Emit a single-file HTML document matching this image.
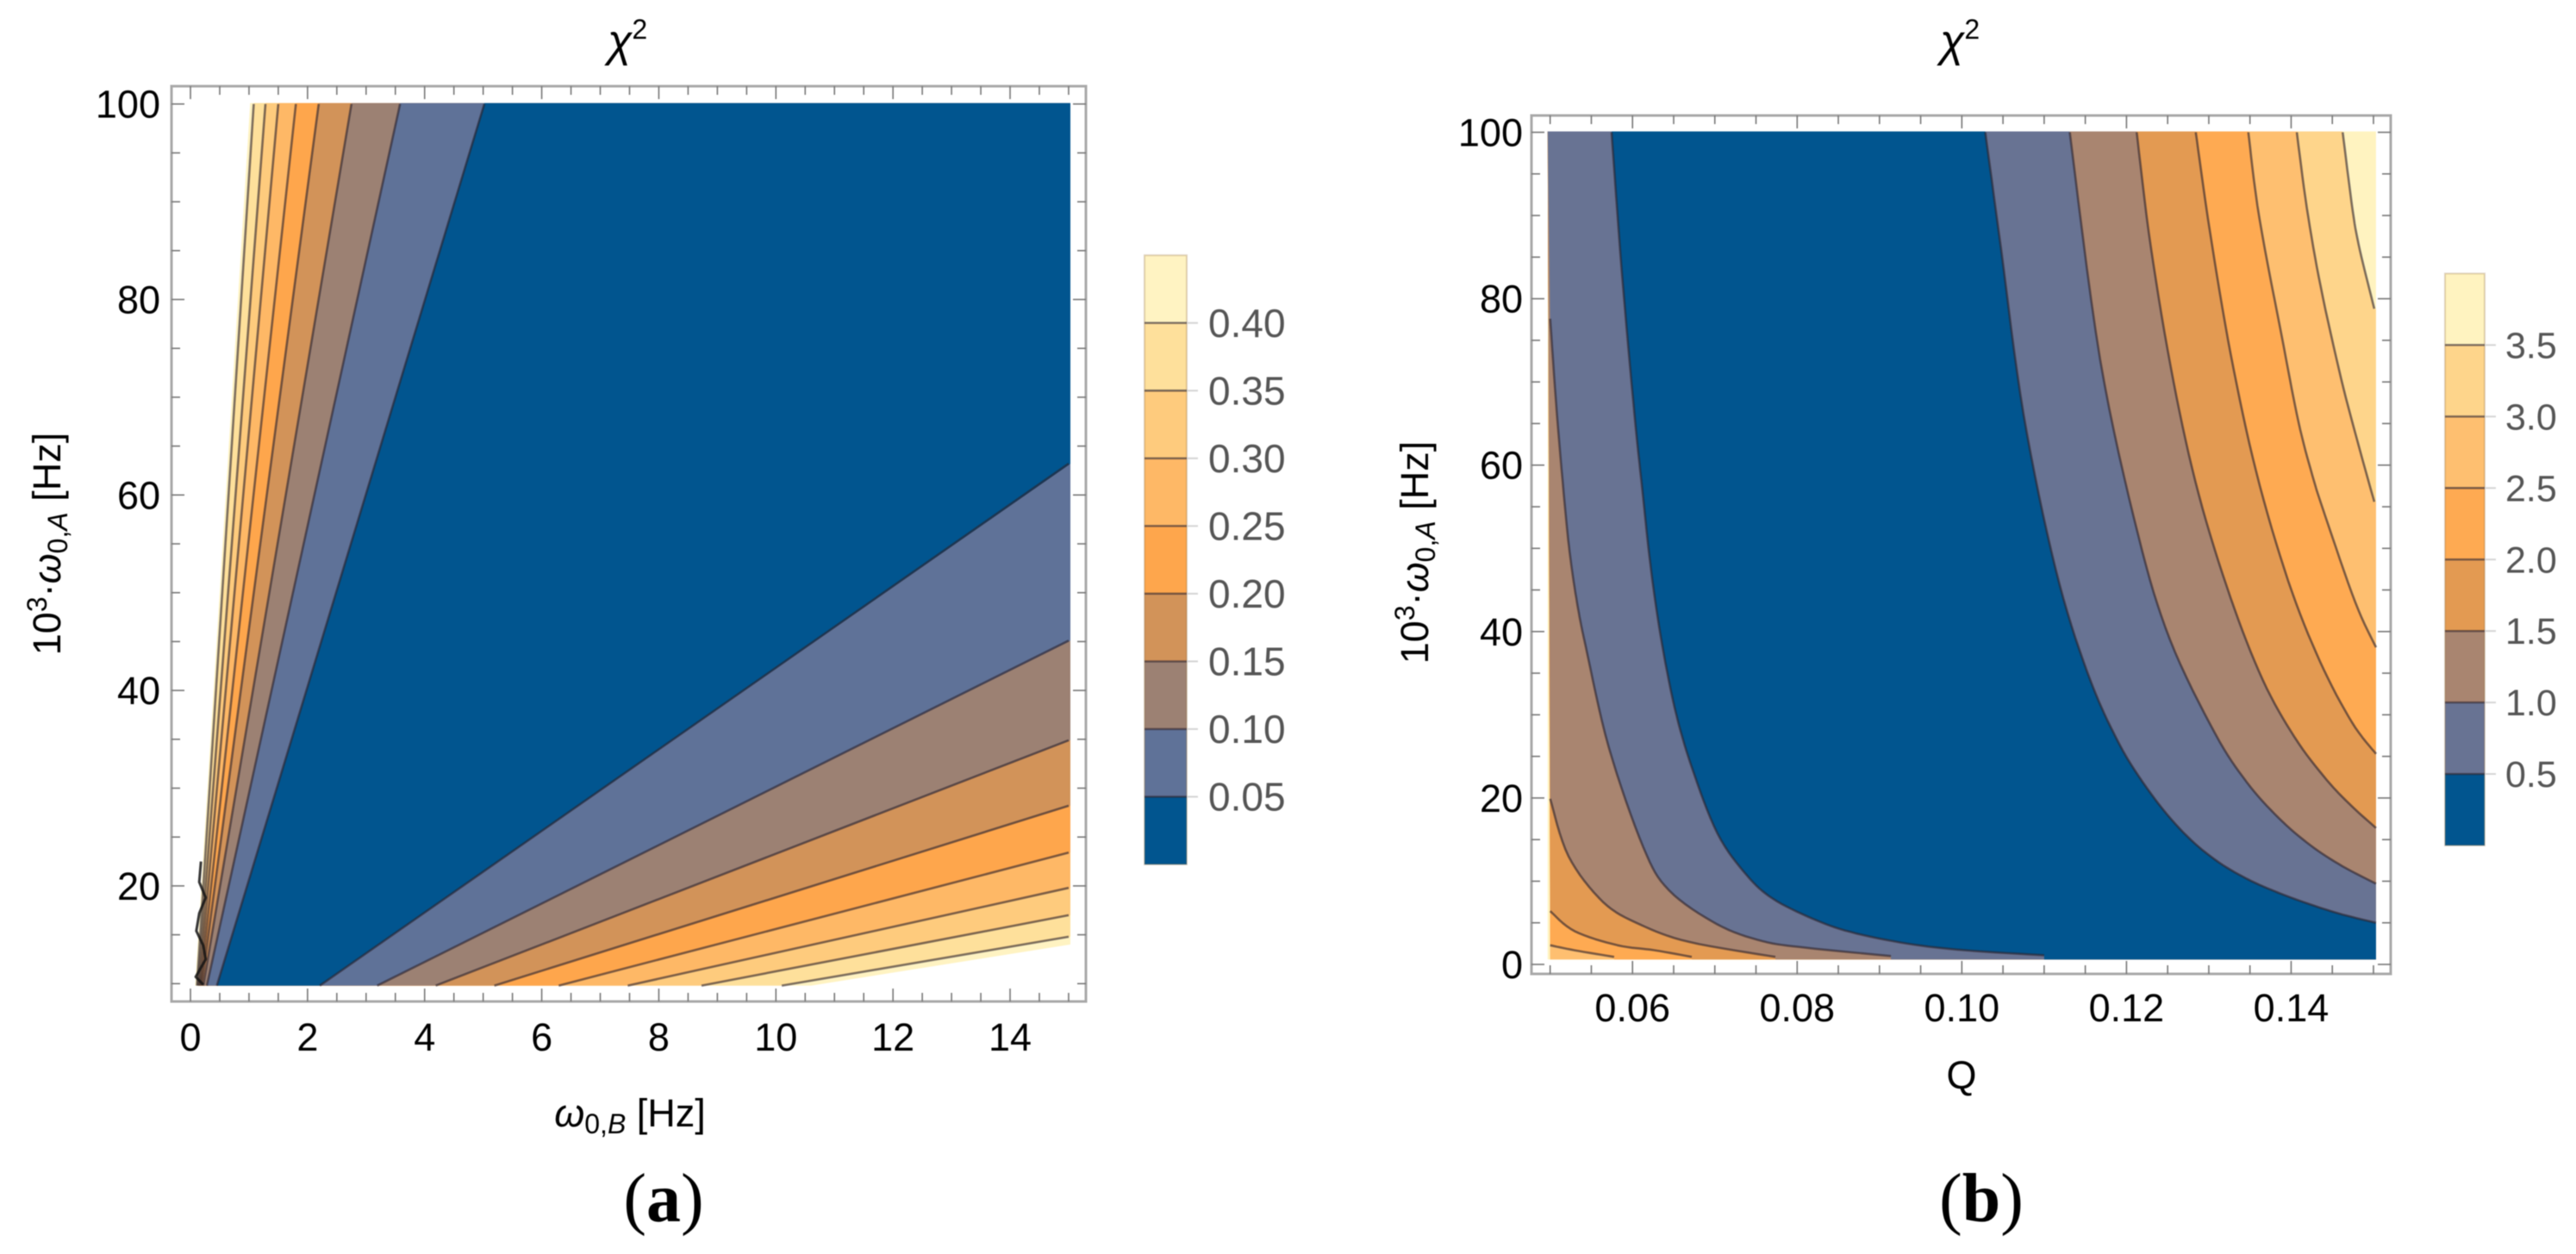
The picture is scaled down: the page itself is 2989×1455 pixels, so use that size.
<!DOCTYPE html>
<html lang="en">
<head>
<meta charset="utf-8">
<title>Chi-squared contour plots</title>
<style>
  html, body { margin: 0; padding: 0; background: #fff; }
  svg { display: block; filter: blur(0.6px); }
  text { font-family: "Liberation Sans", sans-serif; fill: #000; }
  .tick-label { font-size: 45px; }
  .axis-title { font-size: 45px; }
  .sub { font-size: 32px; }
  .bar-label { fill: #555; }
  .panel-label { font-family: "Liberation Serif", serif; font-size: 80px; }
  .frame { fill: none; stroke: #a8a8a8; stroke-width: 3; }
  .tick { stroke: #777; stroke-width: 1.6; }
  .contour { fill: none; stroke: rgba(45,35,45,.62); stroke-width: 2.6; stroke-linejoin: round; }
  .noisy { fill: none; stroke: rgba(20,20,20,.85); stroke-width: 3; stroke-linejoin: round; }
  .bar-edge { fill: none; stroke: rgba(140,100,50,.28); stroke-width: 2; }
  .bar-line { stroke: rgba(45,35,45,.62); stroke-width: 2.4; }
  .bar-tick { stroke: #d4d4d4; stroke-width: 2; }
  .a0 { fill: #01558f; } .a1 { fill: #5f7298; } .a2 { fill: #9c8173; }
  .a3 { fill: #d29359; } .a4 { fill: #fea64c; } .a5 { fill: #feb866; }
  .a6 { fill: #fecb7d; } .a7 { fill: #fee09b; } .a8 { fill: #fff3c2; }
  .b0 { fill: #01558f; } .b1 { fill: #687393; } .b2 { fill: #a98570; }
  .b3 { fill: #e39a52; } .b4 { fill: #feaa52; } .b5 { fill: #febf70; }
  .b6 { fill: #fed58b; } .b7 { fill: #fff3c0; }
</style>
</head>
<body>
<svg id="fig" xmlns="http://www.w3.org/2000/svg" width="2989" height="1455" viewBox="0 0 2989 1455">
  <g id="panelA"></g>
  <g id="panelB"></g>

  <text x="705" y="65" font-size="52" font-style="italic">χ<tspan dy="-20" font-size="32" font-style="normal">2</tspan></text>
  <text x="2251" y="65" font-size="52" font-style="italic">χ<tspan dy="-20" font-size="32" font-style="normal">2</tspan></text>

  <text class="axis-title" x="731" y="1307" text-anchor="middle"><tspan font-style="italic">ω</tspan><tspan class="sub" dy="8">0,</tspan><tspan class="sub" font-style="italic">B</tspan><tspan dy="-8"> [Hz]</tspan></text>
  <text class="axis-title" transform="translate(70 631) rotate(-90)" text-anchor="middle">10<tspan class="sub" dy="-16">3</tspan><tspan dy="16">·</tspan><tspan font-style="italic">ω</tspan><tspan class="sub" dy="8">0,</tspan><tspan class="sub" font-style="italic">A</tspan><tspan dy="-8"> [Hz]</tspan></text>

  <text class="axis-title" x="2276" y="1263" text-anchor="middle">Q</text>
  <text class="axis-title" transform="translate(1657 641) rotate(-90)" text-anchor="middle">10<tspan class="sub" dy="-16">3</tspan><tspan dy="16">·</tspan><tspan font-style="italic">ω</tspan><tspan class="sub" dy="8">0,</tspan><tspan class="sub" font-style="italic">A</tspan><tspan dy="-8"> [Hz]</tspan></text>

  <text class="panel-label" x="770" y="1417" text-anchor="middle">(<tspan font-weight="bold">a</tspan>)</text>
  <text class="panel-label" x="2299" y="1417" text-anchor="middle">(<tspan font-weight="bold">b</tspan>)</text>
</svg>

<script>
/* ---------- Panel (a) data: chi^2 vs omega_0,B [Hz] and 10^3 omega_0,A [Hz] ---------- */
const levelsA = [0.05, 0.10, 0.15, 0.20, 0.25, 0.30, 0.35, 0.40];
const barRangeA = [0, 0.45];
const xTickLabelsA = [0, 2, 4, 6, 8, 10, 12, 14];
const yTickLabelsA = [20, 40, 60, 80, 100];
const barTickLabelsA = ['0.05', '0.10', '0.15', '0.20', '0.25', '0.30', '0.35', '0.40'];
/* steep contour of each level: [omega_B, omega_A] */
const steepContoursA = [
  [[5.02, 100], [0.45, 9.8]],
  [[3.58, 100], [0.28, 9.8]],
  [[2.75, 100], [0.22, 9.8]],
  [[2.19, 100], [0.19, 9.8]],
  [[1.80, 100], [0.17, 9.8]],
  [[1.50, 100], [0.15, 9.8]],
  [[1.28, 100], [0.13, 9.8]],
  [[1.08, 100], [0.11, 9.8]]
];
/* shallow contour of each level: [omega_B, omega_A] */
const shallowContoursA = [
  [[2.21, 9.8], [15.0, 63.2]],
  [[3.19, 9.8], [15.0, 45.1]],
  [[4.19, 9.8], [15.0, 34.9]],
  [[5.19, 9.8], [15.0, 28.2]],
  [[6.29, 9.8], [15.0, 23.4]],
  [[7.47, 9.8], [15.0, 19.8]],
  [[8.73, 9.8], [15.0, 17.0]],
  [[10.1, 9.8], [15.0, 14.8]]
];
const domainOutlineA = [[1.02, 100.1], [0.08, 9.8], [10.6, 9.8], [15.03, 14.0], [15.03, 100.1]];
const noisyContourA = [[0.18, 22.5], [0.15, 20.4], [0.26, 18.8], [0.15, 17.2], [0.10, 15.4], [0.22, 13.9], [0.26, 12.5], [0.09, 10.7], [0.22, 9.9]];

/* ---------- Panel (b) data: chi^2 vs Q and 10^3 omega_0,A [Hz] ---------- */
const levelsB = [0.5, 1.0, 1.5, 2.0, 2.5, 3.0, 3.5];
const barRangeB = [0, 4.0];
const xTickLabelsB = ['0.06', '0.08', '0.10', '0.12', '0.14'];
const yTickLabelsB = [0, 20, 40, 60, 80, 100];
const barTickLabelsB = ['0.5', '1.0', '1.5', '2.0', '2.5', '3.0', '3.5'];
const leftContoursB = [
  [[0.05746, 100], [0.05869, 83.4], [0.06026, 65.9], [0.06131, 56], [0.06217, 48.1], [0.0634, 39.6], [0.06511, 30.9], [0.0672, 23.7], [0.07034, 15.7], [0.0739, 10.7], [0.07704, 7.9], [0.08186, 5.5], [0.08646, 3.9], [0.09337, 2.5], [0.1004, 1.7], [0.11, 1.1]],
  [[0.05, 77.6], [0.05084, 65.9], [0.05188, 54.1], [0.05249, 48.6], [0.05328, 43.4], [0.05432, 38.2], [0.05712, 26.1], [0.06131, 14.1], [0.06445, 8.9], [0.07034, 4.8], [0.07579, 2.8], [0.08113, 2.0], [0.09139, 1.0]],
  [[0.05, 19.9], [0.05223, 13.0], [0.05642, 7.5], [0.06092, 4.8], [0.06689, 2.7], [0.07735, 0.9]],
  [[0.05, 6.4], [0.05296, 4.0], [0.05819, 2.3], [0.0627, 1.7], [0.0672, 0.9]],
  [[0.05, 2.3], [0.05296, 1.7], [0.05777, 0.9]],
  [[0.05, 0.6]],
  [[0.05, 0.6]]
];
const rightContoursB = [
  [[0.10285, 100], [0.10478, 85.9], [0.1075, 66.1], [0.11137, 47.6], [0.11525, 35.1], [0.11912, 26.5], [0.12299, 20.5], [0.12687, 15.9], [0.13074, 12.6], [0.13461, 10.3], [0.13849, 8.6], [0.14236, 7.2], [0.14623, 6.0], [0.15031, 5.0]],
  [[0.11311, 100], [0.1168, 72.7], [0.12142, 51.6], [0.1253, 39.0], [0.13074, 27.8], [0.13461, 21.9], [0.13849, 17.6], [0.14236, 14.3], [0.14623, 11.8], [0.15031, 9.7]],
  [[0.12124, 100], [0.12299, 86.0], [0.12572, 70.0], [0.1288, 56.4], [0.13267, 44.0], [0.13655, 34.2], [0.14042, 27.3], [0.1443, 22.2], [0.14738, 19.0], [0.15031, 16.4]],
  [[0.12842, 100], [0.13015, 88.0], [0.13267, 73.3], [0.13576, 59.2], [0.13964, 46.1], [0.14351, 36.4], [0.14738, 29.1], [0.15031, 25.3]],
  [[0.1348, 100], [0.13616, 89.6], [0.13911, 74.2], [0.14089, 65.2], [0.14257, 58.8], [0.14414, 53.9], [0.1478, 43.5], [0.15031, 38.1]],
  [[0.14069, 100], [0.14191, 90.9], [0.14362, 81.3], [0.1461, 70.3], [0.14819, 62.4], [0.1501, 55.6]],
  [[0.14626, 100], [0.14749, 90.5], [0.14836, 85.8], [0.1501, 78.8]]
];
const domainQ = [0.0497, 0.1503];
const domainOmega = [0.6, 100.1];

/* ---------- Axis functions ---------- */
const xA = v => 221 + v * 67.93;
const yA = v => 120.7 + (100 - v) * 11.34;
const xB = v => 1798.7 + (v - 0.05) * 9553;
const yB = v => 1119 - v * 9.655;
const barYA = v => 1003 - v * 1570.7;
const barYB = v => 981 - v * 165.9;

const SVG_NS = 'http://www.w3.org/2000/svg';
function make(parent, tag, attrs) {
  const el = document.createElementNS(SVG_NS, tag);
  for (const k in attrs) el.setAttribute(k, attrs[k]);
  parent.appendChild(el);
  return el;
}

/* Catmull-Rom rendering so curves through read points look smooth */
function smooth(pts) {
  if (pts.length < 3) return pts;
  const out = [];
  for (let i = 0; i < pts.length - 1; i++) {
    const p0 = pts[Math.max(0, i - 1)], p1 = pts[i], p2 = pts[i + 1], p3 = pts[Math.min(pts.length - 1, i + 2)];
    for (let s = 0; s < 8; s++) {
      const t = s / 8, t2 = t * t, t3 = t2 * t;
      out.push([0, 1].map(d => 0.5 * (2 * p1[d] + (p2[d] - p0[d]) * t + (2 * p0[d] - 5 * p1[d] + 4 * p2[d] - p3[d]) * t2 + (3 * p1[d] - p0[d] - 3 * p2[d] + p3[d]) * t3)));
    }
  }
  out.push(pts[pts.length - 1]);
  return out;
}
const toPx = (pts, fx, fy) => pts.map(p => [fx(p[0]), fy(p[1])]);
const pathD = (pts, close) => 'M' + pts.map(p => p[0].toFixed(1) + ' ' + p[1].toFixed(1)).join('L') + (close ? 'Z' : '');

function drawFrame(group, f, name, xMajors, xMinors, yMajors, yMinors) {
  const rect = make(group, 'rect', { class: 'frame', x: f.l, y: f.t, width: f.r - f.l, height: f.b - f.t });
  
  
  const tick = (x1, y1, x2, y2) => {
    const line = make(group, 'line', { class: 'tick', x1, y1, x2, y2 });
    
    
  };
  const drawX = (px, len) => { tick(px, f.t, px, f.t + len); tick(px, f.b, px, f.b - len); };
  const drawY = (py, len) => { tick(f.l, py, f.l + len, py); tick(f.r, py, f.r - len, py); };
  xMajors.forEach(px => drawX(px, 15));
  xMinors.forEach(px => drawX(px, 10));
  yMajors.forEach(py => drawY(py, 15));
  yMinors.forEach(py => drawY(py, 10));
}

function drawTickText(group, text, x, y, anchor, cls, size, name) {
  const t = make(group, 'text', { x, y, 'text-anchor': anchor, class: cls, 'font-size': size });
  t.textContent = text;
  
  
}

function drawBar(group, levels, range, labels, barY, l, r, prefix, labelX, size, name) {
  const edges = [range[0], ...levels, range[1]];
  for (let i = 0; i < edges.length - 1; i++) {
    const band = make(group, 'rect', { class: prefix + i, x: l, y: barY(edges[i + 1]), width: r - l, height: barY(edges[i]) - barY(edges[i + 1]) });
    
    
  }
  const edge = make(group, 'rect', { class: 'bar-edge', x: l, y: barY(range[1]), width: r - l, height: barY(range[0]) - barY(range[1]) });
  
  
  levels.forEach((lv, i) => {
    const tickLine = make(group, 'line', { class: 'bar-tick', x1: r, x2: r + 13, y1: barY(lv), y2: barY(lv) });
    
    
    const levelLine = make(group, 'line', { class: 'bar-line', x1: l, x2: r, y1: barY(lv), y2: barY(lv) });
    
    
    drawTickText(group, labels[i], labelX, barY(lv) + size * 0.35, 'start', 'bar-label', size, name + '-label');
  });
}

function range(start, stop, step) {
  const out = [];
  const n = Math.round((stop - start) / step);
  for (let i = 0; i <= n; i++) out.push(start + i * step);
  return out;
}

/* ---------- Panel (a) ---------- */
(function () {
  const g = document.getElementById('panelA');
  const base = make(g, 'path', { class: 'a8', d: pathD(toPx(domainOutlineA, xA, yA), true) });
  
  
  const xMax = domainOutlineA[3][0], yMax = domainOutlineA[4][1];
  for (let i = levelsA.length - 1; i >= 0; i--) {
    const poly = [...steepContoursA[i], ...shallowContoursA[i]];
    poly[3] = [xMax, poly[3][1]];
    poly.push([xMax, yMax]);
    poly[0] = [poly[0][0], yMax];
    const band = make(g, 'path', { class: 'a' + i, d: pathD(toPx(poly, xA, yA), true) });
    
    
  }
  levelsA.forEach((lv, i) => {
    const c1 = make(g, 'path', { class: 'contour', d: pathD(toPx(steepContoursA[i], xA, yA)) });
    
    
    const c2 = make(g, 'path', { class: 'contour', d: pathD(toPx(shallowContoursA[i], xA, yA)) });
    
    
  });
  const noisy = make(g, 'path', { class: 'noisy', d: pathD(toPx(noisyContourA, xA, yA)) });
  
  

  const f = { l: 199, r: 1260, t: 100, b: 1162 };
  const xAll = range(0, 15, 0.5), yAll = range(10, 100, 5);
  const xIsMajor = v => v % 2 === 0, yIsMajor = v => v % 20 === 0;
  drawFrame(g, f, 'a-axis',
    xAll.filter(xIsMajor).map(xA), xAll.filter(v => !xIsMajor(v)).map(xA),
    yAll.filter(yIsMajor).map(yA), yAll.filter(v => !yIsMajor(v)).map(yA));
  xTickLabelsA.forEach(v => drawTickText(g, String(v), xA(v), 1219, 'middle', 'tick-label', 45, 'a-x-tick-label'));
  yTickLabelsA.forEach(v => drawTickText(g, String(v), 186, yA(v) + 16, 'end', 'tick-label', 45, 'a-y-tick-label'));
  drawBar(g, levelsA, barRangeA, barTickLabelsA, barYA, 1328, 1377, 'a', 1402, 46, 'a-colorbar');
})();

/* ---------- Panel (b) ---------- */
(function () {
  const g = document.getElementById('panelB');
  const [qMin, qMax] = domainQ, [wMin, wMax] = domainOmega;
  const base = make(g, 'path', { class: 'b7', d: pathD(toPx([[qMin, wMax], [qMin, wMin], [qMax, wMin], [qMax, wMax]], xB, yB), true) });
  
  
  for (let i = levelsB.length - 1; i >= 0; i--) {
    const left = smooth(toPx(leftContoursB[i], xB, yB));
    const right = smooth(toPx(rightContoursB[i], xB, yB));
    const lastLeft = left[left.length - 1];
    const poly = [
      [left[0][0], yB(wMax)],
      ...left,
      [lastLeft[0], yB(wMin)],
      [xB(qMax), yB(wMin)],
      [xB(qMax), right[right.length - 1][1]],
      ...right.slice().reverse(),
      [right[0][0], yB(wMax)]
    ];
    if (leftContoursB[i][0][1] < 100) poly[0] = [xB(qMin), yB(wMax)];
    const band = make(g, 'path', { class: 'b' + i, d: pathD(poly, true) });
    
    
  }
  levelsB.forEach((lv, i) => {
    if (leftContoursB[i].length > 1) {
      const c1 = make(g, 'path', { class: 'contour', d: pathD(smooth(toPx(leftContoursB[i], xB, yB))) });
      
      
    }
    const c2 = make(g, 'path', { class: 'contour', d: pathD(smooth(toPx(rightContoursB[i], xB, yB))) });
    
    
  });

  const f = { l: 1777, r: 2774, t: 134, b: 1130 };
  const xAll = range(0.05, 0.15, 0.005), yAll = range(0, 100, 5);
  const xIsMajor = (v, i) => i % 4 === 2, yIsMajor = v => Math.round(v) % 20 === 0;
  drawFrame(g, f, 'b-axis',
    xAll.filter(xIsMajor).map(xB), xAll.filter((v, i) => !xIsMajor(v, i)).map(xB),
    yAll.filter(yIsMajor).map(yB), yAll.filter(v => !yIsMajor(v)).map(yB));
  xTickLabelsB.forEach(v => drawTickText(g, v, xB(parseFloat(v)), 1185, 'middle', 'tick-label', 44, 'b-x-tick-label'));
  yTickLabelsB.forEach(v => drawTickText(g, String(v), 1767, yB(v) + 16, 'end', 'tick-label', 44, 'b-y-tick-label'));
  drawBar(g, levelsB, barRangeB, barTickLabelsB, barYB, 2837, 2883, 'b', 2907, 43, 'b-colorbar');
})();
</script>
</body>
</html>
